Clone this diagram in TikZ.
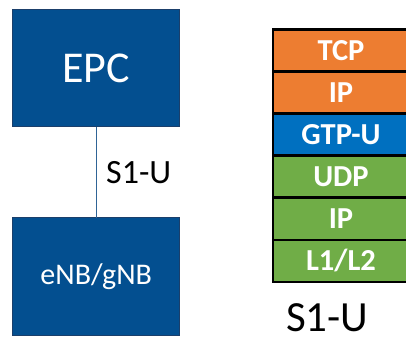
\documentclass[tikz,border=0pt]{standalone}
\usepackage{fontspec}
\setmainfont{Carlito}
\definecolor{navy}{HTML}{034F90}
\definecolor{navyedge}{HTML}{1B3F6B}
\definecolor{linkblue}{HTML}{2F6496}
\definecolor{orangel}{HTML}{ED7D31}
\definecolor{bluel}{HTML}{0070C0}
\definecolor{greenl}{HTML}{70AD47}
\begin{document}
\begin{tikzpicture}[x=1pt,y=-1pt,
  entity/.style={draw=navyedge,line width=0.8pt,fill=navy,text=white,outer sep=0pt,
    minimum width=167pt,minimum height=117.5pt,inner sep=0pt,anchor=north west},
  layer/.style={draw=black,line width=2.6pt,text=white,outer sep=0pt,
    font=\bfseries\fontsize{30.5}{30.5}\selectfont,
    minimum width=136pt,minimum height=42.1pt,inner sep=0pt,anchor=north west},
  lbl/.style={inner sep=0pt,text=black}]
\useasboundingbox (0,0) rectangle (406,337);
% network entities
\node[entity,font=\fontsize{44}{44}\selectfont] (epc) at (12.7,9.3) {EPC};
\node[entity,font=\fontsize{30}{30}\selectfont] (enb) at (12.7,217.5) {eNB/gNB};
\draw[linkblue,line width=1.3pt] (epc.south) -- (enb.north);
\node[lbl,font=\fontsize{34}{34}\selectfont,anchor=base west] (s1u) at (106,183) {S1-U};
% protocol stack
\begin{scope}
\clip (0,0) rectangle (406,337);
\node[layer,fill=orangel] (tcp) at (273,29.3) {TCP};
\node[layer,fill=orangel,anchor=north] (ip1) at (tcp.south) {IP};
\node[layer,fill=bluel,anchor=north] (gtp) at (ip1.south) {GTP-U};
\node[layer,fill=greenl,anchor=north] (udp) at (gtp.south) {UDP};
\node[layer,fill=greenl,anchor=north] (ip2) at (udp.south) {IP};
\node[layer,fill=greenl,anchor=north] (l12) at (ip2.south) {L1/L2};
\end{scope}
\node[lbl,font=\fontsize{43}{43}\selectfont,anchor=base west] (stack) at (286,331) {S1-U};
\end{tikzpicture}
\end{document}
